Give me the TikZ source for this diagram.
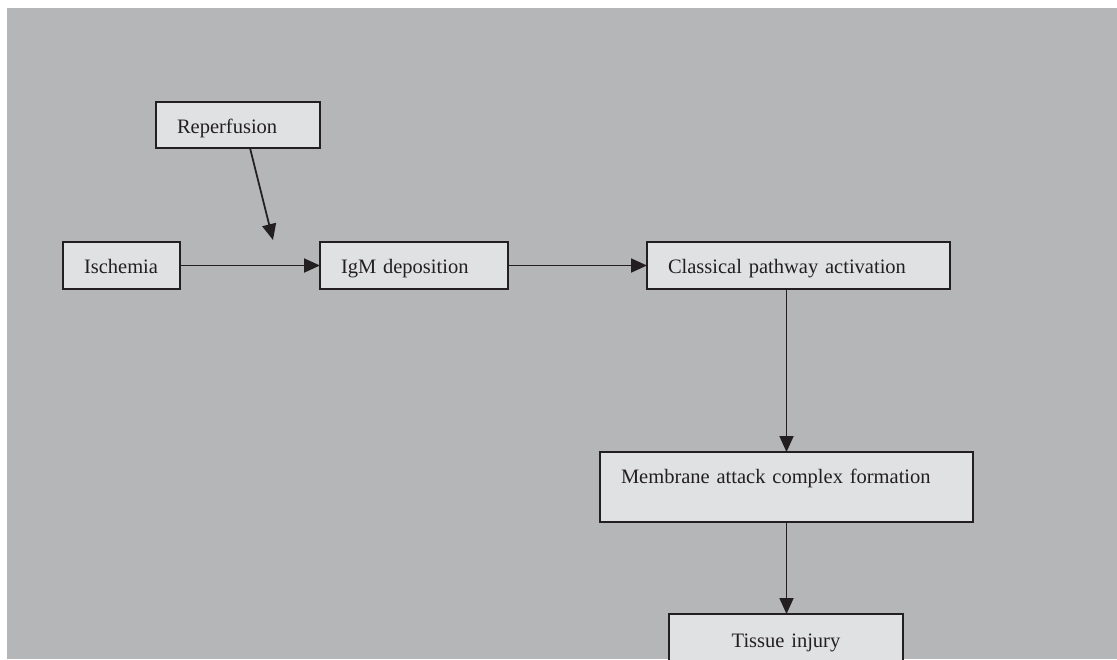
\documentclass[tikz,border=0pt]{standalone}
\usepackage{fontspec}
\setmainfont{Liberation Serif}
\usetikzlibrary{arrows.meta,positioning}

\definecolor{ink}{HTML}{231F20}
\definecolor{panel}{HTML}{B5B6B8}
\definecolor{boxfill}{HTML}{E0E1E3}

\begin{document}
\begin{tikzpicture}[x=1pt,y=-1pt,>={Triangle[length=16pt,width=14pt]},
	box/.style={draw=ink,line width=2pt,fill=boxfill,text=ink,inner xsep=21pt,inner ysep=0pt,outer sep=0pt,
		text height=31pt,text depth=16pt,align=left,font=\fontsize{20.5}{24}\selectfont},
	flow/.style={->,draw=ink,fill=ink,line width=1.8pt}]
	\useasboundingbox (0,0) rectangle (1117,659);
	\fill[panel] (7,8) rectangle (1117,659);

	\node[box,anchor=north west,text width=122pt,text depth=15pt] (rep) at (156,102) {Reperfusion};
	\node[box,anchor=north west,text width=75pt] (isc) at (63,242) {Ischemia};
	\node[box,text width=146pt,right=140pt of isc] (igm) {IgM deposition};
	\node[box,text width=261pt,right=139pt of igm] (cpa) {Classical pathway activation};
	\node[box,anchor=north west,text width=331pt,text depth=39pt] (mac) at (600,452) {Membrane attack complex formation};
	\node[box,anchor=north west,text width=192pt,text height=33pt,text depth=30pt,align=center] (tis) at (669,614) {Tissue injury};
	\coordinate (hit) at (273,240);

	\draw[flow] ([xshift=12pt]rep.south) -- (hit);
	\draw[flow] (isc) -- (igm);
	\draw[flow] (igm) -- (cpa);
	\draw[flow] (cpa.south -| mac.north) -- (mac.north);
	\draw[flow] (mac.south) -- (mac.south |- tis.north);
\end{tikzpicture}
\end{document}
